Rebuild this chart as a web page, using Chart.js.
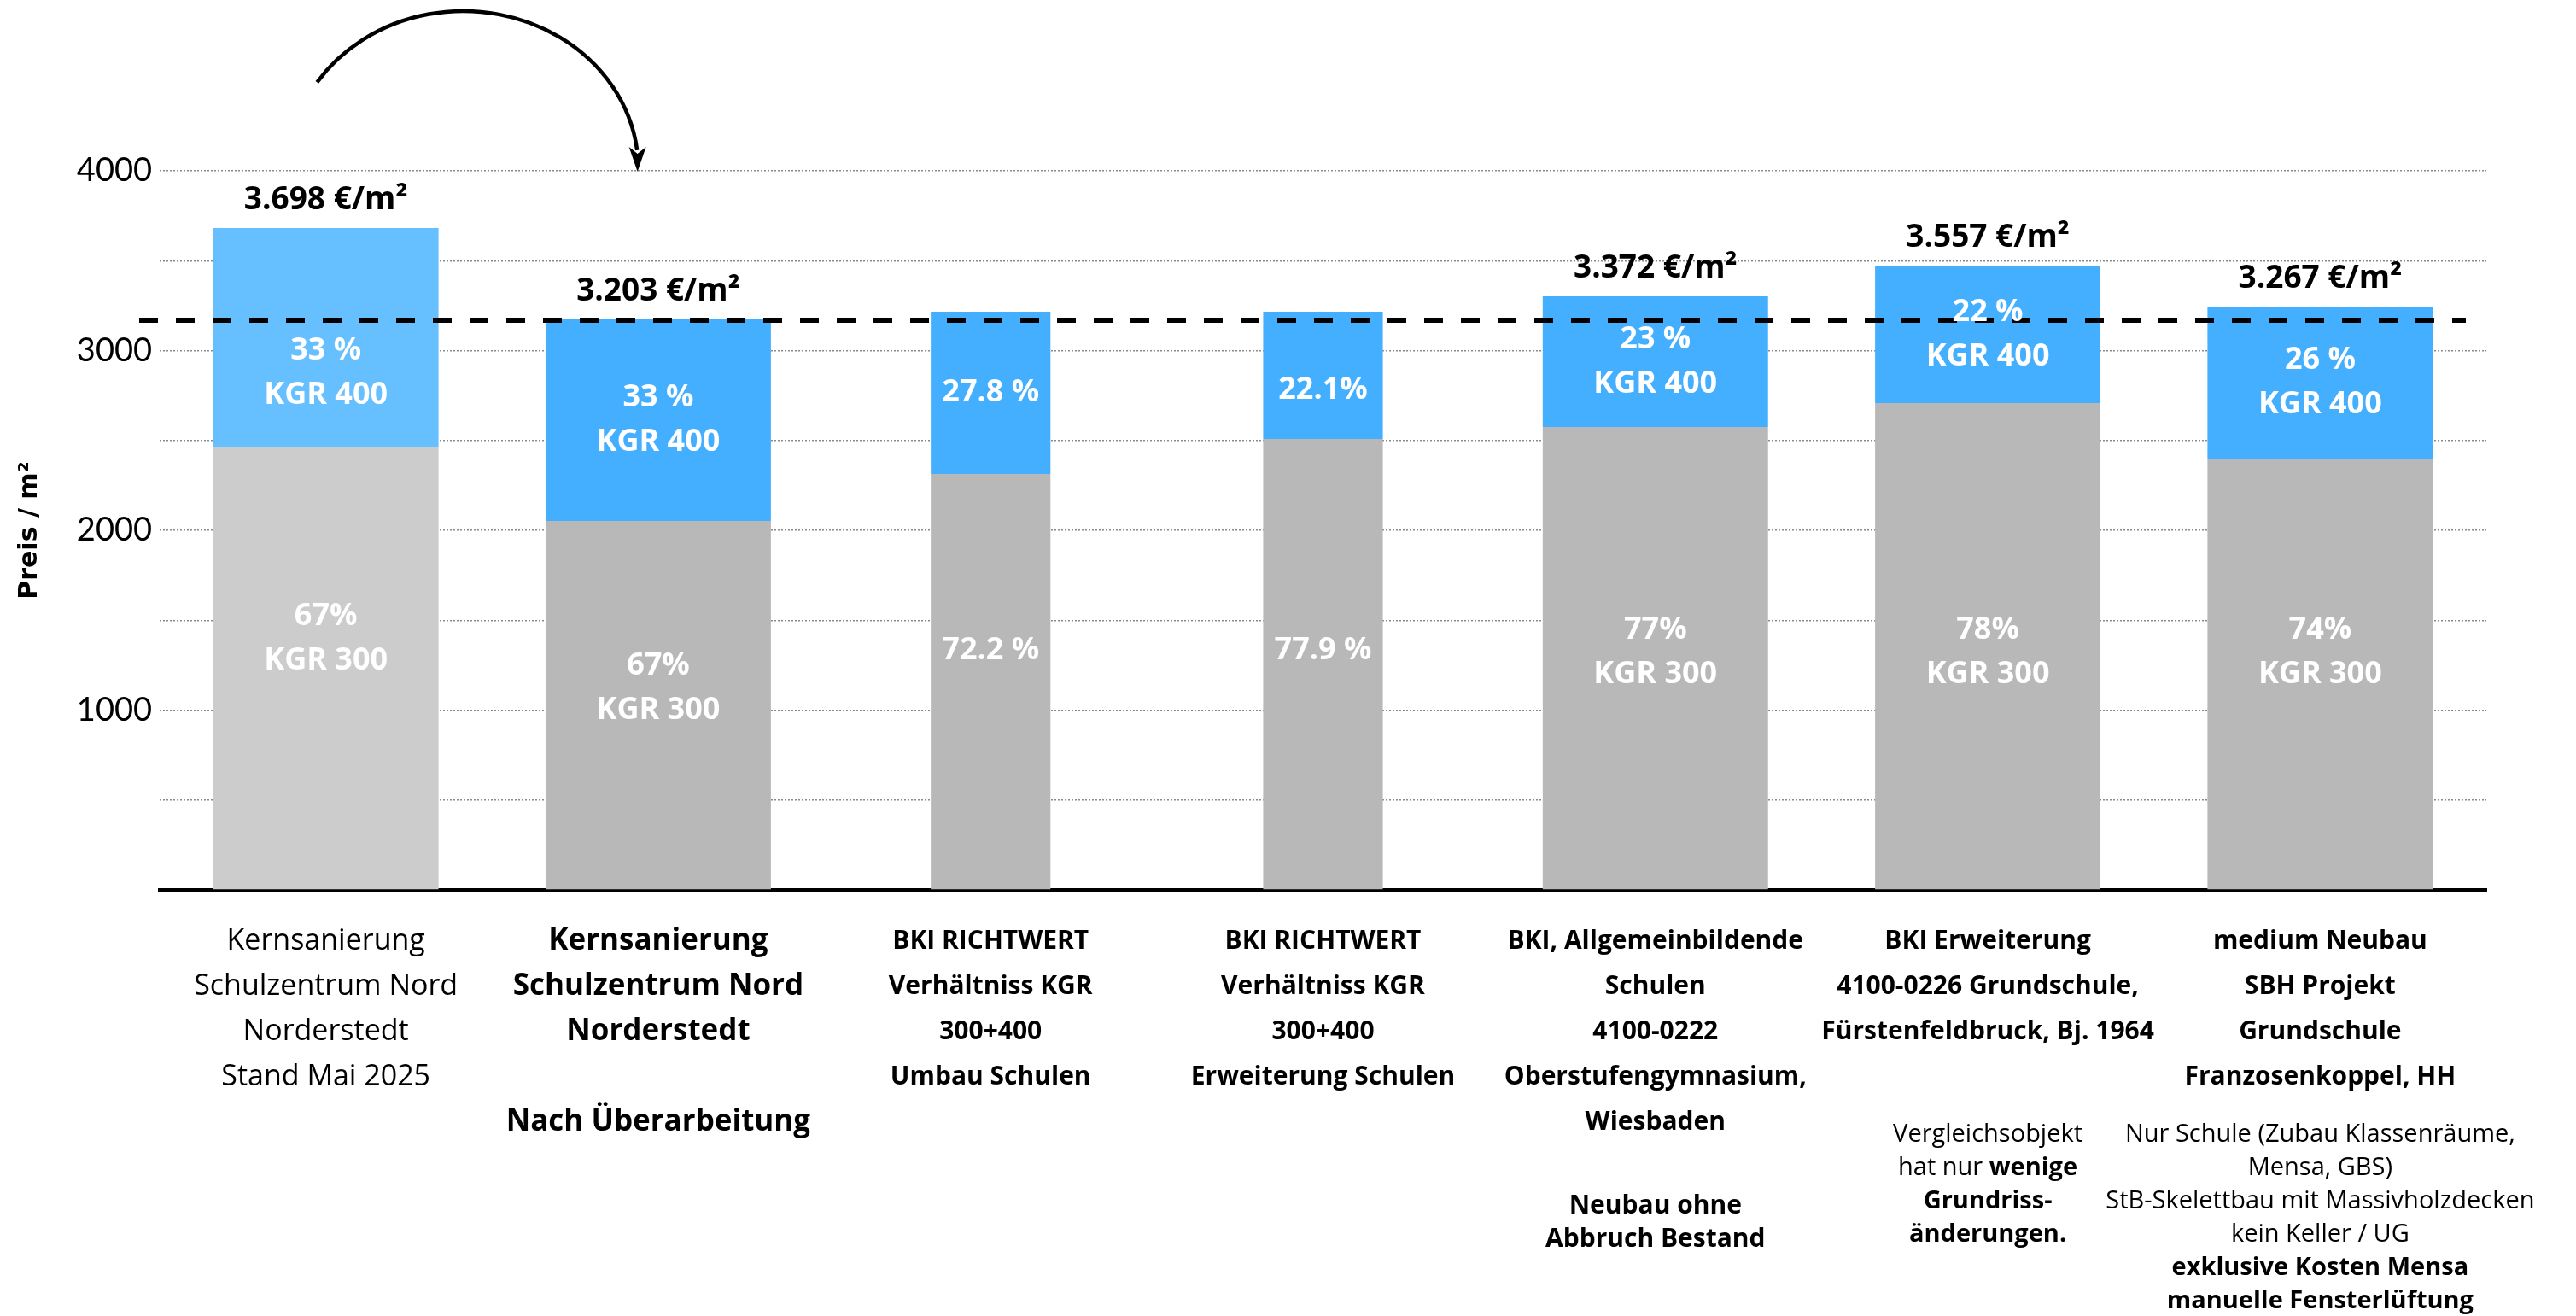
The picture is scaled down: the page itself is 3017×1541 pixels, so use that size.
<!DOCTYPE html>
<html>
<head>
<meta charset="utf-8">
<script src="https://cdn.jsdelivr.net/npm/chart.js@4.4.1/dist/chart.umd.min.js"></script>
<style>
  html, body { margin: 0; padding: 0; background: #fff; }
  canvas { display: block; }
</style>
</head>
<body>
<canvas id="chart" width="3017" height="1541"></canvas>
<script>
// categories (tick label lines)
const categories = [
  ['Kernsanierung', 'Schulzentrum Nord', 'Norderstedt', 'Stand Mai 2025'],
  ['Kernsanierung', 'Schulzentrum Nord', 'Norderstedt', '', 'Nach Überarbeitung'],
  ['BKI RICHTWERT', 'Verhältniss KGR', '300+400', 'Umbau Schulen'],
  ['BKI RICHTWERT', 'Verhältniss KGR', '300+400', 'Erweiterung Schulen'],
  ['BKI, Allgemeinbildende', 'Schulen', '4100-0222', 'Oberstufengymnasium,', 'Wiesbaden'],
  ['BKI Erweiterung', '4100-0226 Grundschule,', 'Fürstenfeldbruck, Bj. 1964'],
  ['medium Neubau', 'SBH Projekt', 'Grundschule', 'Franzosenkoppel, HH']
];

// €/m² per cost group
const kgr300 = [2466, 2052, 2313, 2508, 2575, 2708, 2399];
const kgr400 = [1216, 1126, 903, 708, 727, 765, 846];
const narrowBar = [false, false, true, true, false, false, false];

const share300 = [['67%', 'KGR 300'], ['67%', 'KGR 300'], ['72.2 %'], ['77.9 %'], ['77%', 'KGR 300'], ['78%', 'KGR 300'], ['74%', 'KGR 300']];
const share400 = [['33 %', 'KGR 400'], ['33 %', 'KGR 400'], ['27.8 %'], ['22.1%'], ['23 %', 'KGR 400'], ['22 %', 'KGR 400'], ['26 %', 'KGR 400']];
const totalLabels = ['3.698 €/m²', '3.203 €/m²', '', '', '3.372 €/m²', '3.557 €/m²', '3.267 €/m²'];
const refLine = 3169;
const yTickLabels = [1000, 2000, 3000, 4000];

// notes under some categories: lines of [text, bold] runs
const notes = [
  [], [], [], [],
  [[['Neubau ohne', true]], [['Abbruch Bestand', true]]],
  [[['Vergleichsobjekt', false]], [['hat nur ', false], ['wenige', true]], [['Grundriss-', true]], [['änderungen.', true]]],
  [[['Nur Schule (Zubau Klassenräume,', false]], [['Mensa, GBS)', false]], [['StB-Skelettbau mit Massivholzdecken', false]],
   [['kein Keller / UG', false]], [['exklusive Kosten Mensa', true]], [['manuelle Fensterlüftung', true]]]
];

const FONT = '"Open Sans", Lato, sans-serif';
const grey300 = kgr300.map((v, i) => i === 0 ? '#cccccc' : '#b8b8b8');
const blue400 = kgr400.map((v, i) => i === 0 ? '#66bfff' : '#44afff');

const pick = (arr, narrow) => arr.map((v, i) => narrowBar[i] === narrow ? v : null);

const datasets = [
  { label: 'KGR 300', data: pick(kgr300, false), backgroundColor: grey300, barPercentage: 0.678, seg: share300 },
  { label: 'KGR 400', data: pick(kgr400, false), backgroundColor: blue400, barPercentage: 0.678, seg: share400 },
  { label: 'KGR 300', data: pick(kgr300, true), backgroundColor: grey300, barPercentage: 0.36, seg: share300 },
  { label: 'KGR 400', data: pick(kgr400, true), backgroundColor: blue400, barPercentage: 0.36, seg: share400 }
];
datasets.forEach(d => { d.categoryPercentage = 1; d.stack = 'a'; });

// small vertical nudges of the in-bar texts, as placed in the original
const nudge300 = [-34, -20, -36, -16, -7, 7, -25];
const nudge400 = [42, 0, 0, 17, 0, 0, 0];

const decor = {
  id: 'decor',
  afterDatasetsDraw(chart) {
    const ctx = chart.ctx;
    const area = chart.chartArea;
    const xs = chart.scales.x, ys = chart.scales.y;

    // dashed reference line
    ctx.save();
    ctx.strokeStyle = '#000';
    ctx.lineWidth = 6;
    ctx.setLineDash([22, 21]);
    const yr = ys.getPixelForValue(refLine);
    ctx.beginPath();
    ctx.moveTo(area.left - 24, yr);
    ctx.lineTo(area.right - 24, yr);
    ctx.stroke();
    ctx.restore();

    // percent labels inside the segments
    ctx.save();
    ctx.fillStyle = '#fff';
    ctx.textAlign = 'center';
    ctx.textBaseline = 'middle';
    ctx.font = 'bold 36px ' + FONT;
    chart.data.datasets.forEach((ds, di) => {
      const nudge = ds.seg === share300 ? nudge300 : nudge400;
      chart.getDatasetMeta(di).data.forEach((bar, i) => {
        if (ds.data[i] == null) return;
        const lines = ds.seg[i];
        const mid = (bar.y + bar.base) / 2 + nudge[i];
        lines.forEach((t, k) => {
          ctx.fillText(t, bar.x, mid + (k - (lines.length - 1) / 2) * 52);
        });
      });
    });
    ctx.restore();

    // totals above the bars
    ctx.save();
    ctx.fillStyle = '#000';
    ctx.textAlign = 'center';
    ctx.textBaseline = 'middle';
    ctx.font = 'bold 37px ' + FONT;
    totalLabels.forEach((t, i) => {
      if (!t) return;
      const top = ys.getPixelForValue(kgr300[i] + kgr400[i]);
      ctx.fillText(t, xs.getPixelForValue(i), top - 32);
    });
    ctx.restore();

    // curved arrow from the first bar towards the second
    const yTop = ys.getPixelForValue(4000);
    const cx = xs.getPixelForValue(0) + 161;
    const cy = yTop - 2, rx = 205, ry = 185;
    ctx.save();
    ctx.strokeStyle = '#000';
    ctx.fillStyle = '#000';
    ctx.lineWidth = 4.5;
    ctx.beginPath();
    ctx.ellipse(cx, cy, rx, ry, 0, -2.56, -0.12);
    ctx.stroke();
    const tipX = cx + rx - 1;
    ctx.beginPath();
    ctx.moveTo(tipX, yTop + 1);
    ctx.lineTo(tipX - 10, yTop - 28);
    ctx.lineTo(tipX, yTop - 20);
    ctx.lineTo(tipX + 10, yTop - 28);
    ctx.closePath();
    ctx.fill();
    ctx.restore();

    // notes under the category labels
    ctx.save();
    ctx.fillStyle = '#000';
    ctx.textBaseline = 'middle';
    ctx.textAlign = 'left';
    notes.forEach((lines, i) => {
      if (!lines.length) return;
      const size = i === 4 ? 30 : 29;
      const y0 = area.bottom + (i === 4 ? 370 : 287);
      const cxl = xs.getPixelForValue(i);
      const fontOf = b => (b ? 'bold ' : '') + size + 'px ' + FONT;
      lines.forEach((runs, k) => {
        let w = 0;
        runs.forEach(([t, b]) => { ctx.font = fontOf(b); w += ctx.measureText(t).width; });
        let x = cxl - w / 2;
        runs.forEach(([t, b]) => {
          ctx.font = fontOf(b);
          ctx.fillText(t, x, y0 + k * 39);
          x += ctx.measureText(t).width;
        });
      });
    });
    ctx.restore();
  }
};

new Chart(document.getElementById('chart').getContext('2d'), {
  type: 'bar',
  data: { labels: categories, datasets },
  options: {
    responsive: false,
    animation: false,
    devicePixelRatio: 1,
    layout: { padding: { left: 0, right: 105, top: 200, bottom: 0 } },
    plugins: { legend: { display: false }, tooltip: { enabled: false } },
    scales: {
      x: {
        stacked: true,
        grid: { display: false },
        border: { display: true, color: '#000', width: 4 },
        ticks: {
          autoSkip: false, maxRotation: 0, minRotation: 0, padding: 26, color: '#000',
          font: c => {
            if (c.index === 0) return { family: FONT, size: 34, weight: 'normal', lineHeight: 53 / 34 };
            if (c.index === 1) return { family: FONT, size: 35, weight: 'bold', lineHeight: 53 / 35 };
            return { family: FONT, size: 30, weight: 'bold', lineHeight: 53 / 30 };
          }
        },
        afterFit: s => { s.height = 499; }
      },
      y: {
        stacked: true,
        min: 0, max: 4000,
        grid: { color: '#8a8a8a', lineWidth: 1.5, drawTicks: false },
        border: { display: false, dash: [2, 2] },
        ticks: {
          stepSize: 500, padding: 9, color: '#000',
          font: { family: 'Lato, sans-serif', size: 38 },
          callback: v => yTickLabels.includes(v) ? String(v) : ''
        },
        title: {
          display: true, text: 'Preis / m²', color: '#000',
          font: { family: '"DejaVu Sans", sans-serif', size: 30, weight: 'bold' },
          padding: { top: 17, bottom: 0 }
        },
        afterFit: s => { s.width = 187; }
      }
    }
  },
  plugins: [decor]
});
</script>
</body>
</html>
